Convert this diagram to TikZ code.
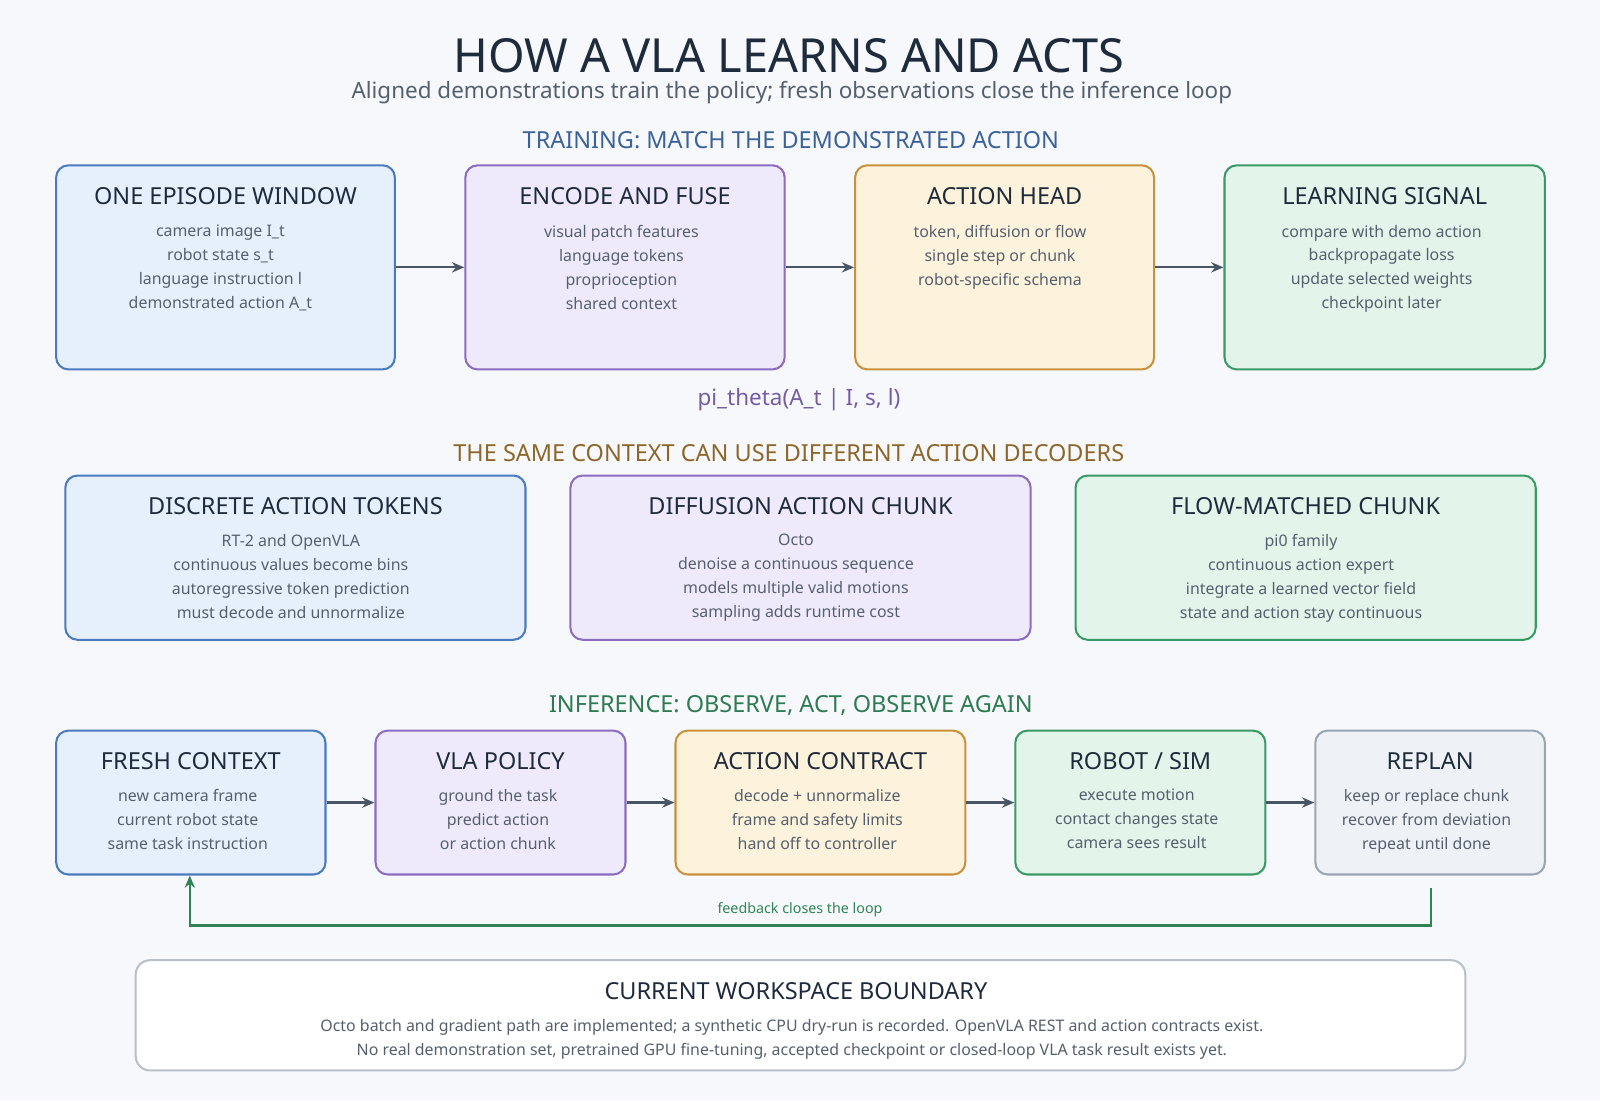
\documentclass[tikz,border=0pt]{standalone}
\usepackage{fontspec}
\setmainfont{Noto Sans}
\usetikzlibrary{arrows.meta}
\definecolor{bg}{HTML}{F6F8FB}
\definecolor{bF}{HTML}{E6F0FD}\definecolor{bS}{HTML}{4A7ABF}
\definecolor{pF}{HTML}{EFEAFB}\definecolor{pS}{HTML}{8A6CC0}
\definecolor{yF}{HTML}{FDF3DC}\definecolor{yS}{HTML}{C9923A}
\definecolor{gF}{HTML}{E3F4EA}\definecolor{gS}{HTML}{3A9A66}
\definecolor{kF}{HTML}{EEF2F7}\definecolor{kS}{HTML}{9AA5B3}
\definecolor{ink}{HTML}{1E2B3C}\definecolor{body}{HTML}{55606E}
\definecolor{arr}{HTML}{4A5563}
\tikzset{
 box/.style={draw=#1S, fill=#1F, line width=1pt, rounded corners=6pt, inner sep=0pt},
 ttl/.style={font=\fontsize{11.5}{14}\selectfont\bfseries, text=ink},
 bdy/.style={font=\fontsize{7.8}{11.75}\selectfont, text=body, align=center, anchor=north, inner sep=0pt},
 sec/.style={font=\fontsize{11.5}{14}\selectfont\bfseries},
 ar/.style={draw=arr, line width=1.1pt, -{Stealth[length=6pt,width=5pt]}}
}
\newcommand\mybox[7]{%
 \node[box=#2, minimum width={(#5-#3)*0.5pt}, minimum height={(#6-#4)*0.5pt}] (#1) at ({(#3+#5)/2},{(#4+#6)/2}) {};
 \node[ttl] (#1t) at ({(#3+#5)/2},#4+30) {#7};}
\begin{document}
\begin{tikzpicture}[x=0.5pt,y=-0.5pt]
\fill[bg] (0,0) rectangle (1568,1078);
\useasboundingbox (0,0) rectangle (1568,1078);
\node[font=\fontsize{23}{28}\selectfont\bfseries, text=ink] (title) at (773,55) {HOW A VLA LEARNS AND ACTS};
\node[font=\fontsize{11}{14}\selectfont, text=body] (sub) at (776,91) {Aligned demonstrations train the policy; fresh observations close the inference loop};
\node[sec, text=bS!80!black] (s1) at (775,137) {TRAINING: MATCH THE DEMONSTRATED ACTION};
% row 1
\mybox{a1}{b}{55}{162}{387}{362}{ONE EPISODE WINDOW}
\mybox{a2}{p}{456}{162}{769}{362}{ENCODE AND FUSE}
\mybox{a3}{y}{838}{162}{1131}{362}{ACTION HEAD}
\mybox{a4}{g}{1200}{162}{1514}{362}{LEARNING SIGNAL}
\node[bdy] at (216,220) {camera image I\_t\\robot state s\_t\\language instruction l\\demonstrated action A\_t};
\node[bdy] at (609,220) {visual patch features\\language tokens\\proprioception\\shared context};
\node[bdy] at (980,220) {token, diffusion or flow\\single step or chunk\\robot-specific schema};
\node[bdy] at (1354,220) {compare with demo action\\backpropagate loss\\update selected weights\\checkpoint later};
\draw[ar] (a1.east) -- (a2.west);
\draw[ar] (a2.east) -- (a3.west);
\draw[ar] (a3.east) -- (a4.west);
\node[font=\fontsize{11}{14}\selectfont, text=pS!85!black] (pi) at (783,392) {pi\_theta(A\_t | I, s, l)};
\node[sec, text=yS!70!black] (s2) at (773,444) {THE SAME CONTEXT CAN USE DIFFERENT ACTION DECODERS};
% row 2
\mybox{d1}{b}{64}{466}{515}{627}{DISCRETE ACTION TOKENS}
\mybox{d2}{p}{559}{466}{1010}{627}{DIFFUSION ACTION CHUNK}
\mybox{d3}{g}{1054}{466}{1505}{627}{FLOW-MATCHED CHUNK}
\node[bdy] at (285,523) {RT-2 and OpenVLA\\continuous values become bins\\autoregressive token prediction\\must decode and unnormalize};
\node[bdy] at (780,523) {Octo\\denoise a continuous sequence\\models multiple valid motions\\sampling adds runtime cost};
\node[bdy] at (1275,523) {pi0 family\\continuous action expert\\integrate a learned vector field\\state and action stay continuous};
\node[sec, text=gS!80!black] (s3) at (775,691) {INFERENCE: OBSERVE, ACT, OBSERVE AGAIN};
% row 3
\mybox{c1}{b}{55}{716}{319}{857}{FRESH CONTEXT}
\mybox{c2}{p}{368}{716}{613}{857}{VLA POLICY}
\mybox{c3}{y}{662}{716}{946}{857}{ACTION CONTRACT}
\mybox{c4}{g}{995}{716}{1240}{857}{ROBOT / SIM}
\mybox{c5}{k}{1289}{716}{1514}{857}{REPLAN}
\node[bdy] at (184,773) {new camera frame\\current robot state\\same task instruction};
\node[bdy] at (488,773) {ground the task\\predict action\\or action chunk};
\node[bdy] at (801,773) {decode + unnormalize\\frame and safety limits\\hand off to controller};
\node[bdy] at (1114,773) {execute motion\\contact changes state\\camera sees result};
\node[bdy] at (1398,773) {keep or replace chunk\\recover from deviation\\repeat until done};
\draw[ar] (c1.east) -- (c2.west);
\draw[ar] (c2.east) -- (c3.west);
\draw[ar] (c3.east) -- (c4.west);
\draw[ar] (c4.east) -- (c5.west);
\coordinate (fb) at (1402,870);
\coordinate (fbx) at (186,907);
\draw[draw=gS!85!black, line width=1.1pt, -{Stealth[length=6pt,width=5pt]}] (fb) -- (1402,907) -- (fbx) -- (fbx |- c1.south);
\node[font=\fontsize{7}{9}\selectfont, text=gS!85!black] (fbl) at (784,892) {feedback closes the loop};
% bottom
\node[draw=kS!70, fill=white, line width=1pt, rounded corners=7pt, minimum width=651.5pt, minimum height=54pt] (cw) at (784.5,995) {};
\node[ttl] (cwt) at (780,971) {CURRENT WORKSPACE BOUNDARY};
\node[bdy] at (776,999) {Octo batch and gradient path are implemented; a synthetic CPU dry-run is recorded. OpenVLA REST and action contracts exist.\\No real demonstration set, pretrained GPU fine-tuning, accepted checkpoint or closed-loop VLA task result exists yet.};
\end{tikzpicture}
\end{document}
